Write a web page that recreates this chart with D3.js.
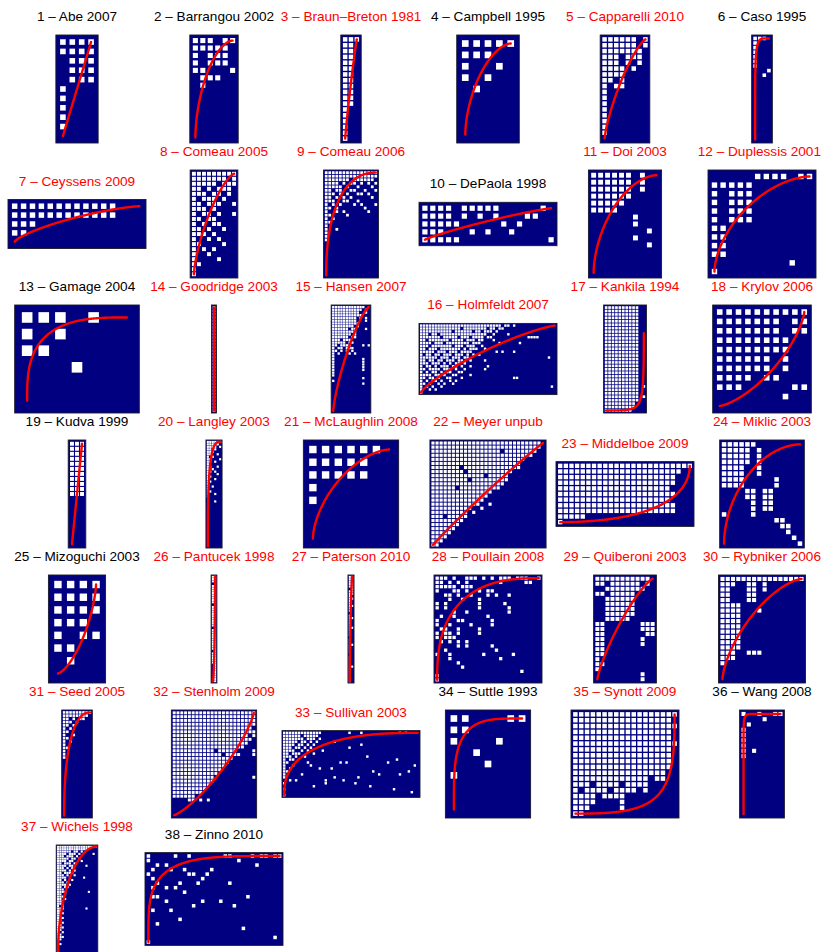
<!DOCTYPE html>
<html>
<head>
<meta charset="utf-8">
<script src="https://cdn.jsdelivr.net/npm/d3@7"></script>
<style>
  body { margin: 0; background: #ffffff; }
  svg { display: block; }
</style>
</head>
<body>
<svg id="chart" width="822" height="952"></svg>
<script>
// Phage–bacteria infection matrices, one panel per study.
// Rows are strings of 0/1 (spaces ignored) or arrays of 1-based column indices.
// Rows not listed are empty.

const titles = ["1 – Abe 2007","2 – Barrangou 2002","3 – Braun–Breton 1981","4 – Campbell 1995","5 – Capparelli 2010","6 – Caso 1995",
  "7 – Ceyssens 2009","8 – Comeau 2005","9 – Comeau 2006","10 – DePaola 1998","11 – Doi 2003","12 – Duplessis 2001",
  "13 – Gamage 2004","14 – Goodridge 2003","15 – Hansen 2007","16 – Holmfeldt 2007","17 – Kankila 1994","18 – Krylov 2006",
  "19 – Kudva 1999","20 – Langley 2003","21 – McLaughlin 2008","22 – Meyer unpub","23 – Middelboe 2009","24 – Miklic 2003",
  "25 – Mizoguchi 2003","26 – Pantucek 1998","27 – Paterson 2010","28 – Poullain 2008","29 – Quiberoni 2003","30 – Rybniker 2006",
  "31 – Seed 2005","32 – Stenholm 2009","33 – Sullivan 2003","34 – Suttle 1993","35 – Synott 2009","36 – Wang 2008",
  "37 – Wichels 1998","38 – Zinno 2010"];

// 1 = study flagged as significantly nested (title in red)
const nestedFlag = [0,0,1,0,1,0, 1,1,1,0,1,1, 0,1,1,1,1,1, 0,1,1,1,1,1, 0,1,1,1,1,1, 1,1,1,0,1,0, 1,0];

const nCols = [4,6,3,5,8,4, 15,9,15,17,10,12, 7,1,14,47,12,10, 3,6,7,28,24,14, 4,2,2,25,12,16, 9,22,46,7,18,8, 17,30];
const nRows = [11,14,18,9,18,23, 5,21,30,5,15,12, 6,32,39,24,31,11, 21,43,8,26,11,18, 8,46,44,25,21,20, 33,28,22,9,18,20, 45,20];

// isocline curvature (superellipse exponent) and the height where the drawn isocline stops
const isoclineShape = [1.0,1.75,1.1,1.7,1.3,6, 1.35,1.4,2.3,1.15,1.75,1.7, 3,2,1.3,1.25,0.3,0.72, 1.0,3,1.65,1.05,0.52,1.85, 0.7,0.6,1.5,2.6,1.25,1.5, 2.3,0.8,2.5,3.8,0.4,20, 1.9,4];
const isoclineTop = [1,1,1,1,1,1, 1,1,1,1,1,1, 1,1,1,1,0.75,1, 1,1,1,1,1,1, 1,1,1,1,1,1, 1,1,1,1,1,1, 1,1];

const abe2007 = ["1111","1111","0111","0111","0111","1000","1000","1000","1000","1000"];
const barrangou2002 = ["111011","111110","101110","101110","110001","011100","010000"];
const braunBreton1981 = ["111","110","110","110","110","110","110","110","110","110","110","110","100","100","100","100","100","100"];
const campbell1995 = ["11111","11100","10010","10100","01000"];
const capparelli2010 = ["11111101","11111101","11111110","11101110","11101010","11110100","11110000","11010000","10110000",
  "10000000","10000000","10000000","10000000","10000000","10000000","10000000","10000000"];
const caso1995 = ["1110","1000","1000","1000","1000","1000","1000","0001","0010"];
const ceyssens2009 = ["111111111111000","111111111111000","111000000000000","110000000000000"];
const comeau2005 = ["111111111","111111101","111110111","110101110","111011010","101110100","110111001","111010000","101101001",
  "110110000","101011000","110100100","111010000","100101000","110000100","101010000","100100000","100001000","110000000",
  "100000000","100000000"];
const comeau2006 = ["111111111111111","111111111111111","111111101111110","111101011010101","111110100100010","110110011001001",
  "111010100110100","110101010000010","111001100100000","101010001010001","110100000001000","100101000000100","110000100000000",
  "101000000000000","110000000000000","100000000000000","100100000000000","100000000000000","100000000000000","100000000000000"];
const depaola1998 = ["11110111110000010","11110101010001100","11111000001010000","11100010100100000","11111000000000001"];
const doi2003 = ["1111110100","1111110100","1111110100","1111110000","1111100000","1111000000","0000001000","0000001000",
  "0000000010","0000001000","0000000010"];
const duplessis2001 = ["000001111011","111110000000","101110000000","101110000000","101110000000","101110000000",
  "110000000000","110000000000","110000000000","110000000000","000000000100","100000000000"];
const gamage2004 = ["1110100","1010000","1100000","0001000"];
const goodridge2003 = ["1","1","1","1","1","1","1","1","1","1","1","1","1","1","1","1",
  "1","1","1","1","1","1","1","1","1","1","1","1","1","1","1","1"];
const hansen2007 = ["11111111111100","11111111111010","11111111110010","11111111111000","11111111101010","11111111100010",
  "11111111110000","11111111010000","11111101100010","11111111100000","11111110100000","11111101100000","11101110000000",
  "11111011000000","11011110000101","10110111000000","11010101000000","10100010100000","10000000000000","10000000000100",
  "10000000000100","10000000000100","10000000000100","10000000000100","10000000000000","10000000000000","00000000000100",
  "10000000000000","00000000000100"];
const holmfeldt2007 = [
  "1111111111 1111111111 1111111101 1010000000 0000000",
  "1111111111 1111011111 1110110110 0000000000 0000000",
  "1111111111 1011111101 1011101000 0000000000 0000000",
  "1110110111 1111111111 1110010000 1000000000 0000000",
  "1111111011 1110111011 1101100000 0000000111 1000000",
  "1101111111 0111101110 1100010000 0000000000 0000000",
  "1111011101 1111111011 1000000100 0000100000 0000000",
  "1110111111 1011101110 0100000000 0000000000 0000000",
  "1101110111 1111010111 0010000000 0000000000 0000000",
  "1111101110 1110111100 0000001010 0010000000 0000000",
  "1011011011 1011101010 1000000000 0000000000 0000000",
  "1111110111 0111011000 0000000000 0000000000 0000100",
  "1101101101 1101100100 0010000000 0000000000 0000000",
  "1110111010 1011010000 0000000000 0000000000 0000000",
  "1011010111 0110100100 0001000000 0000000000 0000000",
  "1101111011 1010010000 0010000000 0000000000 0000000",
  "1010110101 1001100000 0000000000 0000000000 0000000",
  "1111011010 0110000100 0000000000 0000000000 0000000",
  "1101101001 1000100000 0000000000 0011000000 0000000",
  "1010110100 1010000000 0000000000 0000000000 0000000",
  "1101001010 0100000000 0000000000 0000000000 0000000",
  "1010100100 0000000000 0000000000 0000000000 0000010",
  "1001010000",
  "1000000000"];
const kankila1994 = ["111111111100","111111111100","111111111100","111111111100","111111111100","111111111100",
  "111111111100","111111111100","111111111100","111111111100","111111111100","111111111100","111111111100",
  "111111111100","111111111100","111111111100","111111111100","111111111100","111111111100","111111111100",
  "111111111100","111111111100","111111111100","111111111101","111111111100","111111111100","111111111101",
  "111111111100","111111111000","111111111000","111111110000"];
const krylov2006 = ["1111111111","1111111011","1111111011","1111111100","1111111100","1111110100","1111110100",
  "1111011000","1110000011","0000000100"];
const kudva1999 = ["111","111","111","111","111","111","111","111","111","111","111"];
const langley2003 = ["111111","111110","111101","110100","111000","110010","101000","110001","110100","100000",
  "110010","101000","110100","100010","110000","100100","110000","100000","101000","100000","110000","100100",
  "100000","000000","000100"];
const mclaughlin2008 = ["1111110","1111100","1111100","1000000","1000000"];
const meyerUnpub = [
  "1111111111 1111111111 11111110",
  "1111111111 1111111111 11111110",
  "1111111111 1111111011 11111100",
  "1111111111 1111111111 11111000",
  "1111111111 1111111111 11100000",
  "1111111111 1111111111 11000000",
  "1111111011 1111111111 11000000",
  "1111111101 1111111111 00000000",
  "1111111111 1110111110 00000000",
  "1111111110 1111111110 00000000",
  "1111111111 1111111100",
  "1111110111 1111111000",
  "1111111111 1111100000",
  "1111111111 1111000000",
  "1111111111 1110000000",
  "1111111111 1100100000",
  "1111111111 0010000000",
  "1111111110 1000000000",
  "1110111110",
  "1111111100",
  "1111111000",
  "1111110000",
  "1111100000",
  "1111000000",
  "1110000000",
  "1100000000"];
const middelboe2009 = ["111111111111111111111111","111111111111111111111100","111111111111111111111000",
  "111111111111111111111000","111111111111111111110000","111111111111111111111000","111111111111111111110000",
  "111111111111111111111000","111111111111111111111000","111110000000000000000000","100000000000000000000000"];
const miklic2003 = ["11111100000000","11111010000000","11111010000000","11111010000000","11110010000000",
  "11110010000000","11110000010000","11110000010000","00001101100000","00001101100000","00000101100000",
  "00000101100000","10000100000000","00000000011000","00000000001100","00000000000100","00000000000010",
  "00000000000001"];
const mizoguchi2003 = ["1111","1111","1111","1110","1011","1100","0100"];
const pantucek1998 = ["11","11","11","01","11","11","11","11","11","11","11","11","01",
  "11","11","11","11","11","11","11","11","11","01",
  "11","11","11","11","11","11","11","11","11","01",
  "11","11","11","11","11","01","01","01","01","01","01","01","01"];
const paterson2010 = ["11","11","11","11","11","01","11","11","10","11","10","10","11","10","10","00","10","11",
  "10","10","10","11","10","10","10","00","10","10","11","10","10","10","00","10","10","10","10","11","10","10",
  "10","10","10","10"];
const poullain2008 = [[1,2,3,5,8,9,10,12,14,16,17,18,20,21,22,25],[1,2,4,6,8,16,22,23],[1,2,3,4,5,7,8,9],
  [1,5,6,8,11,13,14],[3,4,6,9,13,15,18],[4,7,11],[1,3,11,17],[1,3,11,18],[5,8,18],[2,5,13],[1,6,7,14],
  [1,4,9,14],[2,3,6,11],[1,3,4,6,11],[1,3,4,5],[2,4,6,8],[6,8,14],[3,15],[1,4,12,19],[4,16],[6],[7],[21],[1],[1]];
const quiberoni2003 = ["111111111110","110111111010","001111111100","110111110000","001111110000","001111110000",
  "001111110000","001111110000","001111100000","110000000111","110000000111","110000000011","110000000100",
  "110000000100","110000000000","110000000000","100000000000","110000000000","100000000000","000000000100",
  "000000000100"];
const rybniker2006 = ["1111111111111111","1110011010000000","1100011010000000","1100011000000000","1100011000000000",
  "1111000000000000","1111000100000000","1111000000000000","1111000000000000","1111000000000000","1111000000000000",
  "1111000000000000","1111000000000000","1111000000000000","1110011100000000","1110000000000000","1000000000000000"];
const seed2005 = ["111111111","111111110","110101100","111010000","110100000","101000000","110000000","100100000",
  "110000000","101000000","100000000","110000000","100000000","100000000","100000000"];
const stenholm2009 = [
  "1111111111 1111111111 11","1111111111 1111111111 11","1111111111 1111111111 11","1111111111 1111111111 11",
  "1111111111 1111111111 10","1111111111 1111111111 11","1111111111 1111111111 01","1111111111 1111111111 10",
  "1111111111 1111111111 00","1111111111 1111111110 00","1111111111 1011111000 01","1111111111 1110111100 01",
  "1111111111 1111110000 00","1111111111 1111100000 00","1111111111 1111000000 00","1111111111 1110000000 00",
  "1111111111 1100000000 00","1111111111 1000000000 01","1111111111 1","1111111111","111111111","11111111",
  "111111","0000110101"];
const sullivan2003 = [[1,2,3,4,5,6,7,8,9,10,11,12,13,23,27,40,42],[1,2,3,4,5,6,8,9,10,11,12],
  [1,2,3,4,5,6,7,9,10,11,13],[1,2,3,4,5,7,8,10,12,18],[1,2,3,4,6,7,9,11,27],[1,2,3,5,6,8,10,23],
  [1,2,3,4,7,9,14],[1,2,4,5,6,11],[1,2,3,5,8,29],[1,3,4,39],[1,2,9,20,22,36],[1,4,10,45],[1,3,13,17],
  [1,2,31,43],[1,7,33,40],[1,18,26],[3,5,15,21],[1,15,25],[11,30],[1,38],[44],[1]];
const suttle1993 = ["1100011","1100000","1000100","0010000","0001000","1000000"];
const synott2009 = ["111111111111111111","111111111111111110","111111111111111111","111111111111111110",
  "111111111111111110","111111111111111111","111111111111111110","111111111111111110","111111111111111110",
  "111111111111111110","111111111111111100","111111111111101100","111011110111100000","101111011110100000",
  "111101111000000000","111100001000000000","111000001000000000","110000000000000000"];
const wang2008 = ["10010011","00001000","01000000","10000000","10000000","10000000","10000000","10100000","10000000"];
const wichels1998 = ["11111111111111111","11111111111110000","11111101101000000","11110111010000010",
  "11101110100000000","11111011010000000","11110110001000000","11011101000000000","11110110000010000",
  "11101010000000000","11110101000000000","11011110000000000","11101001000000000","11110100000100000",
  "11010010000000000","11101000000000000","11110100000000000","11011000000000000","11100000000000000",
  "11110000000001000","11010000000000000","11100000000000000","11010000000000000","11100000000000000",
  "11100000000000000","10100000000000000","11100000000010000","11000000000000000","11100000000000000",
  "11000000000000000","11100000000000000","11000000000000000","10100000000000000","11000000000000000",
  "11100000000000000","11000000000000000","10100000000000000","11000000000000000","11100000000000000",
  "11000000000000000","10000000000000000","11000000000000000","10000000000000000","10000000000000000",
  "10000000000000000"];
const zinno2010 = [[1,7,10,18,19,24,26,27,29,30],[1,21],[3,5,25],[2,6,9,15],[1,10,11,14],[2,13],[3,8,12,19],
  [2,5,7],[9],[2,3,23],[5,13,17],[11,20],[2,6],[],[8],[3],[22],[],[29],[1]];

const matrices = [abe2007, barrangou2002, braunBreton1981, campbell1995, capparelli2010, caso1995,
  ceyssens2009, comeau2005, comeau2006, depaola1998, doi2003, duplessis2001,
  gamage2004, goodridge2003, hansen2007, holmfeldt2007, kankila1994, krylov2006,
  kudva1999, langley2003, mclaughlin2008, meyerUnpub, middelboe2009, miklic2003,
  mizoguchi2003, pantucek1998, paterson2010, poullain2008, quiberoni2003, rybniker2006,
  seed2005, stenholm2009, sullivan2003, suttle1993, synott2009, wang2008,
  wichels1998, zinno2010];

// ---- layout ----
const svg = d3.select("#chart");
const width = 822;
const slotW = 137, slotH = 135;      // grid spacing of the panels
const firstX = 77, firstY = 89;      // centre of the first panel slot
const boxW = 138, boxH = 108;        // largest matrix frame
const perRow = 6;

function cellsOf(rows, nc) {
  const out = [];
  rows.forEach((row, r) => {
    if (typeof row === "string") {
      const bits = row.replace(/\s/g, "");
      for (let c = 0; c < Math.min(bits.length, nc); c++)
        if (bits[c] === "1") out.push({ r: r + 1, c: c + 1 });
    } else {
      row.forEach(c => { if (c <= nc) out.push({ r: r + 1, c: c }); });
    }
  });
  return out;
}

// navy gap between neighbouring cells, as a function of the cell pitch
const gapFor = d3.scaleLinear()
  .domain([2.4, 3.5, 5, 6, 7.5, 9.4, 12.7, 16.6])
  .range([0.25, 0.8, 1.1, 1.4, 2.4, 3.8, 5.3, 6])
  .clamp(true);

const isocline = (u, k) => Math.pow(1 - Math.pow(1 - u, k), 1 / k);

matrices.forEach((rows, i) => {
  const nc = nCols[i], nr = nRows[i];
  const p = Math.min(boxW / (nc + 0.5), boxH / (nr + 0.5));
  const w = p * (nc + 0.5), h = p * (nr + 0.5);
  const cx = firstX + slotW * (i % perRow);
  const cy = firstY + slotH * Math.floor(i / perRow);
  const left = cx - w / 2, top = cy - h / 2;

  const x = d3.scaleLinear().domain([0.25, nc + 0.75]).range([left, left + w]);
  const y = d3.scaleLinear().domain([0.25, nr + 0.75]).range([top, top + h]);

  const g = svg.append("g").attr("class", "panel");

  g.append("rect")
    .attr("x", left).attr("y", top).attr("width", w).attr("height", h)
    .attr("fill", "#000080");

  const s = p - gapFor(p);
  g.append("g").selectAll("rect")
    .data(cellsOf(rows, nc))
    .join("rect")
    .attr("x", d => x(d.c) - s / 2)
    .attr("y", d => y(d.r) - s / 2)
    .attr("width", s).attr("height", s)
    .attr("fill", "#ffffff");

  g.append("rect")
    .attr("x", left).attr("y", top).attr("width", w).attr("height", h)
    .attr("fill", "none").attr("stroke", "#1a1a2a").attr("stroke-width", 0.9);

  // isocline from the bottom-left cell to the top-right cell
  const k = isoclineShape[i], yTop = isoclineTop[i];
  const pts = [];
  const n = 600;
  for (let j = 0; j <= n; j++) {
    const u = (1 - Math.cos(Math.PI * j / n)) / 2;
    const v = isocline(u, k);
    if (v > yTop) break;
    pts.push([1 + u * (nc - 1), nr - v * (nr - 1)]);
  }
  g.append("path")
    .attr("d", d3.line().x(d => x(d[0])).y(d => y(d[1]))(pts))
    .attr("fill", "none")
    .attr("stroke", "#ff0000")
    .attr("stroke-width", 2.4)
    .attr("stroke-linecap", "round")
    .attr("stroke-linejoin", "round");

  const label = g.append("text")
    .attr("x", cx).attr("y", top - 14)
    .attr("text-anchor", "middle")
    .attr("font-family", "'Liberation Sans', Arial, Helvetica, sans-serif")
    .attr("font-size", 13.6)
    .attr("fill", nestedFlag[i] ? "#ff0000" : "#000000")
    .text(titles[i]);

  // keep a title inside the drawing area if it would run past the right edge
  const half = label.node().getComputedTextLength() / 2;
  if (cx + half > width - 1) label.attr("x", width - 1 - half);
});
</script>
</body>
</html>
